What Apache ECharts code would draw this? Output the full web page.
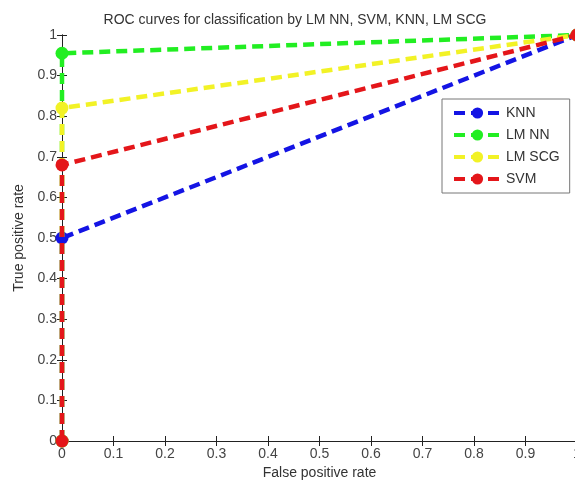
<!DOCTYPE html>
<html><head><meta charset="utf-8">
<script src="https://cdn.jsdelivr.net/npm/echarts@6/dist/echarts.min.js"></script>
<style>html,body{margin:0;padding:0;background:#fff}#c{width:575px;height:486px}</style>
</head><body><div id="c"></div>
<script>
const seriesNames = ['KNN', 'LM NN', 'LM SCG', 'SVM'];
const fpr = [0, 0, 1];
const tprKNN = [0, 0.50, 1];
const tprLMNN = [0, 0.955, 1];
const tprLMSCG = [0, 0.82, 1];
const tprSVM = [0, 0.68, 1];
const colors = ['#1414e4', '#22ee22', '#f2f226', '#e4161a'];
const xTicks = ['0','0.1','0.2','0.3','0.4','0.5','0.6','0.7','0.8','0.9','1'];

const allTpr = [tprKNN, tprLMNN, tprLMSCG, tprSVM];
const font = 'Liberation Sans, Arial, sans-serif';
const chart = echarts.init(document.getElementById('c'));
const axisCommon = {
  min: 0, max: 1, interval: 0.1,
  axisLine: {show: true, lineStyle: {color: '#222', width: 1}},
  axisTick: {show: true, inside: true, length: 5, lineStyle: {color: '#222'}},
  splitLine: {show: false}
};
chart.setOption({
  animation: false,
  title: {text: 'ROC curves for classification by LM NN, SVM, KNN, LM SCG', left: 290, top: 8, textAlign: 'center',
    textStyle: {fontFamily: font, fontSize: 14, fontWeight: 'normal', color: '#333'}},
  grid: {left: 62, top: 35, width: 515, height: 406, outerBoundsMode: 'none', containLabel: false},
  legend: {
    orient: 'vertical', left: 442, top: 99, padding: [7, 10, 7, 10],
    borderColor: '#777', borderWidth: 1, backgroundColor: '#fff',
    itemWidth: 47, itemHeight: 14, itemGap: 8,
    lineStyle: {width: 4},
    textStyle: {fontFamily: font, fontSize: 14, color: '#333'},
    data: seriesNames
  },
  xAxis: [
    Object.assign({type: 'value', position: 'bottom', name: 'False positive rate', nameLocation: 'middle', nameGap: 24,
      nameTextStyle: {fontFamily: font, fontSize: 14, color: '#333'},
      axisLabel: {fontFamily: font, fontSize: 14, color: '#444', margin: 6,
        formatter: v => xTicks[Math.round(v * 10)]}}, axisCommon),
    Object.assign({type: 'value', position: 'top', axisLabel: {show: false}}, axisCommon)
  ],
  yAxis: [
    Object.assign({type: 'value', position: 'left', name: 'True positive rate', nameLocation: 'middle', nameGap: 36,
      nameTextStyle: {fontFamily: font, fontSize: 14, color: '#333'},
      axisLabel: {fontFamily: font, fontSize: 14, color: '#444', margin: 5,
        formatter: v => xTicks[Math.round(v * 10)]}}, axisCommon),
    Object.assign({type: 'value', position: 'right', axisLabel: {show: false}}, axisCommon)
  ],
  series: seriesNames.map((n, i) => ({
    name: n, type: 'line', xAxisIndex: 0, yAxisIndex: 0,
    data: fpr.map((x, k) => [x, allTpr[i][k]]),
    symbol: 'circle', symbolSize: 13, showAllSymbol: true,
    lineStyle: {color: colors[i], width: 4.5, type: [11, 6]},
    itemStyle: {color: colors[i]},
    z: 2 + i
  }))
});
</script></body></html>
